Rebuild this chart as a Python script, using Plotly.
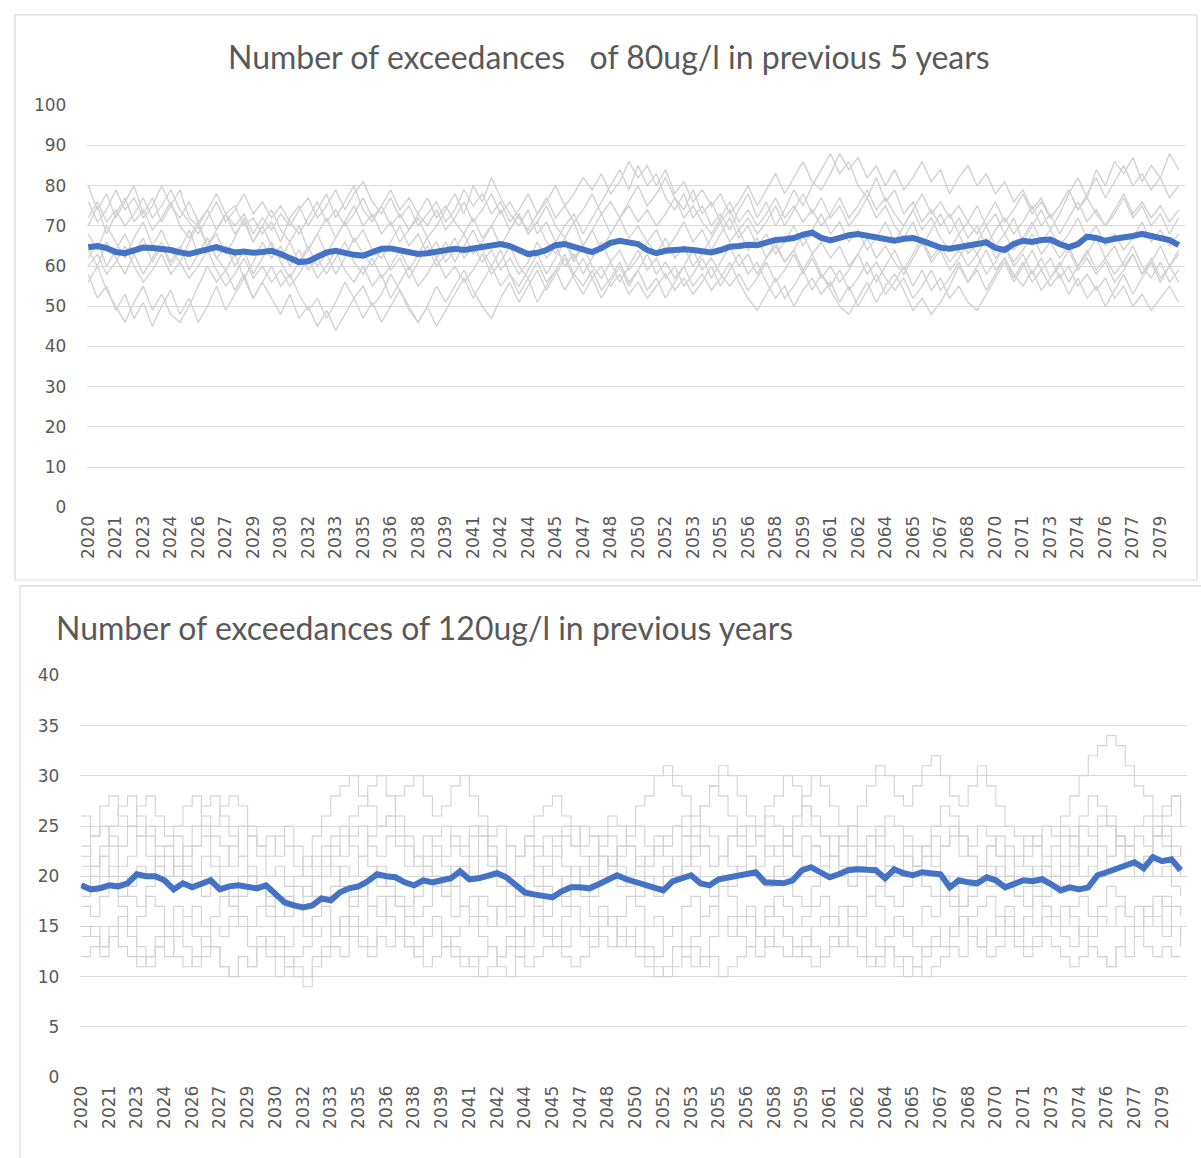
import plotly.graph_objects as go

# ---------------- data ----------------
periods = [2020 + 0.5 * i for i in range(120)]  # half-year steps 2020.0 .. 2079.5

tick_labels = ["2020", "2021", "2023", "2024", "2026", "2027", "2029", "2030", "2032", "2033",
               "2035", "2036", "2038", "2039", "2041", "2042", "2044", "2045", "2047", "2048",
               "2050", "2052", "2053", "2055", "2056", "2058", "2059", "2061", "2062", "2064",
               "2065", "2067", "2068", "2070", "2071", "2073", "2074", "2076", "2077", "2079"]
tick_positions = [2020 + 1.5 * k for k in range(len(tick_labels))]

top_y_ticks = [0, 10, 20, 30, 40, 50, 60, 70, 80, 90, 100]
bottom_y_ticks = [0, 5, 10, 15, 20, 25, 30, 35, 40]

# 80ug/l chart: ensemble members (grey)
top_member_1 = [80,74,78,72,76,80,73,77,71,75,79,72,70,74,69,73,75,70,72,68,
                71,66,72,75,70,74,78,72,76,80,74,71,75,70,73,69,72,67,70,74,
                78,73,80,76,82,77,73,70,74,68,71,66,70,73,68,72,76,80,84,79,
                85,80,83,77,74,78,72,75,70,73,69,74,78,72,76,70,74,79,75,80,
                84,88,83,86,80,77,82,76,79,73,76,71,74,70,73,68,71,75,70,73,
                68,72,66,70,74,69,73,78,82,77,84,80,86,83,87,81,85,82,88,84]
top_member_2 = [58,52,55,49,53,47,51,45,50,54,48,52,46,50,55,49,53,57,52,56,
                52,48,53,47,50,45,49,44,48,52,47,51,46,50,54,49,46,50,45,49,
                53,57,52,56,60,55,58,53,57,51,55,59,54,58,62,57,60,55,58,53,
                56,52,55,58,54,57,53,56,60,55,59,63,58,61,56,52,55,50,54,57,
                53,56,51,55,50,54,58,53,56,60,55,59,54,57,52,55,51,49,53,57,
                61,56,60,64,59,62,57,60,55,58,54,57,52,55,50,53,49,52,55,51]
top_member_3 = [70,75,68,73,77,71,74,69,72,76,70,67,71,65,69,73,68,71,66,70,
                74,69,66,70,64,68,72,67,71,75,70,73,68,71,66,69,73,77,72,75,
                71,68,72,67,70,74,69,73,68,71,75,70,67,71,65,69,73,68,72,76,
                80,75,78,82,77,74,79,73,76,71,74,69,72,68,71,75,70,74,78,73,
                77,72,75,70,73,77,72,75,70,67,71,65,69,73,68,72,67,70,65,69,
                72,68,71,75,70,73,68,72,76,71,74,70,73,77,72,75,70,73,68,72]
top_member_4 = [62,66,60,64,68,63,58,62,66,61,65,59,63,67,62,65,60,64,58,62,
                66,61,57,61,65,60,63,58,62,67,63,60,64,59,62,57,61,65,60,63,
                67,62,65,61,64,59,62,58,61,66,62,65,60,63,58,62,66,61,64,59,
                62,66,63,67,62,65,60,63,67,71,66,69,64,67,62,65,61,64,68,63,
                66,62,65,60,63,67,62,65,61,58,62,66,61,64,59,62,66,63,67,62,
                65,61,64,68,63,66,62,65,60,63,67,62,65,60,63,58,61,65,60,63]
top_member_5 = [56,60,54,50,46,51,55,49,53,48,46,50,55,60,56,59,54,58,52,56,
                60,55,58,53,49,52,47,51,56,52,55,50,53,58,54,50,46,50,55,51,
                55,59,54,50,47,52,56,51,55,59,54,58,62,57,53,57,52,56,60,55,
                59,54,57,52,56,60,55,58,54,57,61,56,52,49,53,57,52,55,59,54,
                58,54,50,48,52,56,51,55,58,54,49,52,48,51,55,60,56,59,54,58,
                62,57,61,56,59,55,58,53,57,52,55,50,54,58,53,57,61,56,60,64]
top_member_6 = [76,71,74,79,74,77,72,75,80,75,72,76,71,74,78,73,70,73,68,72,
                69,73,70,74,77,72,75,79,74,78,81,76,73,77,72,75,70,73,76,71,
                74,79,75,78,73,76,71,74,78,73,76,80,75,78,82,79,83,78,81,86,
                82,85,80,84,78,81,76,79,75,78,73,76,80,75,79,83,78,82,86,81,
                79,83,88,84,87,82,85,80,84,79,82,86,81,84,78,82,85,80,83,78,
                81,76,79,74,77,72,75,79,74,78,82,77,81,85,80,83,79,82,77,80]
top_member_7 = [64,60,66,62,58,63,67,61,65,60,64,69,63,67,62,59,63,57,61,66,
                62,65,60,64,59,62,58,62,66,61,58,62,57,60,64,59,63,67,62,66,
                61,65,69,64,60,64,58,55,59,63,58,62,66,61,65,60,57,61,56,60,
                64,59,62,57,60,55,58,62,57,61,65,60,63,58,62,66,61,64,59,63,
                58,55,59,54,57,61,56,60,64,59,63,67,62,65,61,64,60,63,58,61,
                65,60,63,58,62,57,60,64,59,62,58,61,56,59,63,58,62,57,60,56]
top_member_8 = [68,64,70,66,62,67,71,65,69,64,61,66,70,65,68,63,67,72,66,70,
                65,62,66,61,64,68,63,67,71,66,69,64,62,66,70,65,68,63,66,61,
                64,68,63,66,70,65,69,73,68,71,66,63,67,62,65,69,64,68,72,67,
                70,66,69,64,67,71,66,69,64,68,72,67,70,65,68,63,66,70,65,69,
                73,68,71,66,69,64,67,71,66,70,74,69,72,67,64,68,63,66,70,65,
                68,64,67,71,66,69,65,68,72,67,70,65,68,64,67,71,66,69,65,68]
top_member_9 = [60,63,58,61,65,60,56,59,63,58,61,57,60,64,59,55,58,62,57,60,
                56,59,55,58,62,57,60,64,59,56,60,55,58,52,56,60,55,58,62,57,
                60,56,59,63,58,61,65,60,57,61,56,59,63,58,55,59,54,57,61,56,
                59,63,58,61,57,60,64,59,62,58,55,58,54,57,61,56,59,63,58,62,
                57,60,56,59,63,58,61,57,54,57,52,55,59,54,57,61,56,60,64,59,
                62,58,55,59,54,57,61,56,60,64,59,62,58,61,65,60,57,61,56,59]
top_member_10 = [72,76,71,74,70,73,77,72,75,79,74,71,68,72,76,71,74,78,73,76,
                 72,75,71,68,72,76,71,74,70,73,77,72,75,79,74,77,73,70,74,69,
                 72,76,71,74,78,73,76,72,69,73,77,72,75,71,74,78,73,76,72,75,
                 71,74,70,73,77,72,75,71,68,72,76,71,74,70,73,77,72,75,71,74,
                 70,73,77,72,75,79,74,77,73,70,74,78,73,76,72,75,71,68,72,76,
                 71,74,78,73,76,72,75,79,74,77,73,70,74,78,73,76,72,75,71,74]
top_mean = [64.7,65.0,64.5,63.5,63.2,64.0,64.6,64.5,64.3,64.0,
            63.4,63.0,63.6,64.3,64.7,64.0,63.4,63.6,63.3,63.5,
            63.8,63.0,62.0,61.0,61.2,62.3,63.4,63.8,63.2,62.8,
            62.6,63.5,64.3,64.4,64.0,63.5,63.0,63.2,63.5,64.0,
            64.3,64.0,64.4,64.8,65.0,65.5,65.0,64.0,63.0,63.3,
            64.0,65.2,65.5,64.8,64.0,63.5,64.5,65.8,66.3,66.0,
            65.5,64.0,63.2,63.8,64.0,64.2,64.0,63.8,63.4,64.0,
            64.8,65.0,65.3,65.2,65.8,66.5,66.7,67.0,67.8,68.3,
            67.0,66.4,67.0,67.7,68.0,67.5,67.0,66.8,66.3,66.8,
            67.0,66.3,65.5,64.6,64.3,64.8,65.2,65.5,65.9,64.5,
            64.0,65.5,66.3,66.0,66.5,66.6,65.5,64.7,65.5,67.3,
            67.0,66.3,66.8,67.0,67.5,68.0,67.6,67.0,66.5,65.2]

# 120ug/l chart: ensemble members (grey)
bottom_member_1 = [26,24,27,28,26,25,27,28,26,24,25,27,28,26,25,27,28,27,25,23,
                   24,22,25,23,21,24,26,28,29,30,28,27,25,26,28,29,30,28,26,27,
                   29,30,28,26,24,25,23,22,24,26,27,28,26,25,23,24,22,21,23,25,
                   27,28,30,31,29,28,26,27,29,31,30,28,26,25,27,28,30,29,27,25,
                   24,22,23,25,27,29,31,30,28,27,29,31,32,30,28,27,29,31,29,27,
                   25,24,22,23,25,24,26,28,30,32,33,34,33,31,29,28,26,27,28,25]
bottom_member_2 = [12,13,12,14,13,12,11,12,13,12,14,13,11,12,13,11,10,12,11,13,
                   12,10,11,10,9,11,12,13,12,14,13,12,14,13,15,13,12,11,12,13,
                   12,11,12,10,11,12,13,12,11,12,13,14,13,15,14,13,14,13,15,14,
                   13,12,11,10,11,12,13,11,12,10,11,12,13,12,14,13,12,13,14,13,
                   12,13,14,13,12,11,12,13,11,12,11,10,11,12,13,12,14,13,12,13,
                   14,13,12,13,14,13,12,11,12,13,12,11,13,12,14,13,12,13,12,12]
bottom_member_3 = [22,24,25,23,21,22,24,25,23,22,20,21,23,24,22,21,23,25,24,22,
                   20,21,19,20,22,21,23,24,25,23,22,24,25,26,24,23,21,22,24,25,
                   23,22,24,25,23,21,20,22,23,21,20,22,24,23,25,24,22,21,23,24,
                   25,23,22,24,25,26,24,23,21,22,24,25,23,24,26,25,23,22,24,23,
                   21,22,24,25,23,22,24,26,25,23,21,22,24,23,25,24,22,21,23,24,
                   22,21,23,24,22,23,25,24,22,23,25,26,24,23,25,26,24,25,23,22]
bottom_member_4 = [17,16,18,19,17,15,16,18,17,15,14,16,17,15,16,18,17,16,15,17,
                   16,14,13,15,14,16,17,15,16,18,19,17,16,18,17,15,16,17,19,18,
                   16,17,18,16,15,17,16,14,15,17,16,18,17,19,18,16,17,15,16,18,
                   17,15,16,14,15,17,18,16,17,19,18,16,17,15,16,18,17,15,16,17,
                   18,16,15,17,16,18,17,15,16,14,15,17,16,18,17,15,16,17,18,16,
                   17,15,16,18,17,16,15,17,18,16,17,19,18,16,17,15,16,18,17,16]
bottom_member_5 = [19,21,23,25,27,28,26,24,22,20,21,23,25,27,28,26,24,22,20,19,
                   18,16,17,19,18,20,22,21,19,17,18,20,21,19,17,16,18,20,22,21,
                   19,17,16,18,17,15,16,18,20,22,24,23,21,19,20,22,24,26,25,23,
                   21,19,18,20,22,24,25,27,29,28,26,24,22,20,19,21,23,25,27,26,
                   24,22,20,19,21,22,20,18,17,19,21,23,22,20,18,17,19,21,23,22,
                   20,18,17,19,21,20,22,24,26,28,27,25,23,21,20,22,24,26,28,27]
bottom_member_6 = [15,14,13,15,16,14,12,11,13,14,12,11,12,14,13,11,10,12,11,13,
                   14,13,12,11,10,12,13,15,14,16,15,17,18,16,15,14,13,15,16,14,
                   13,12,11,12,13,11,10,12,13,15,14,13,12,11,12,13,15,16,14,13,
                   12,11,10,11,13,12,11,12,14,15,16,14,13,15,17,16,14,13,12,11,
                   12,14,13,15,14,12,11,13,12,10,11,13,14,13,15,16,14,13,15,14,
                   16,15,13,14,16,15,17,16,14,13,12,11,13,15,14,16,18,17,15,13]
bottom_member_7 = [21,20,22,20,18,19,21,20,22,23,21,19,20,22,21,19,18,20,21,19,
                   17,18,16,17,19,18,20,22,24,26,27,29,30,28,26,24,22,21,20,19,
                   21,20,22,24,22,20,19,18,20,19,21,20,18,19,21,20,22,21,19,20,
                   22,21,23,22,20,21,23,25,24,22,21,20,22,21,23,22,24,26,28,30,
                   29,27,25,23,22,24,23,21,20,22,21,23,25,27,26,24,22,20,21,19,
                   20,22,21,19,18,20,19,21,23,22,20,22,24,23,21,22,24,23,21,20]
bottom_member_8 = [18,20,19,21,20,18,17,19,21,20,22,21,19,18,20,19,17,18,20,19,
                   17,16,18,17,15,16,18,19,21,20,22,21,19,20,18,17,19,21,20,18,
                   19,21,20,22,21,19,17,16,18,17,19,18,20,21,19,18,20,22,21,19,
                   18,20,19,21,20,22,21,19,18,20,19,21,22,20,19,21,20,18,17,19,
                   20,22,21,19,20,18,19,21,20,22,21,19,18,20,19,17,18,20,19,21,
                   20,18,19,21,20,19,21,22,20,21,23,22,24,23,21,22,20,21,19,18]
bottom_member_9 = [14,15,13,14,16,15,13,12,14,15,17,16,14,13,15,14,16,15,13,14,
                   13,12,11,12,13,14,15,14,16,15,14,13,15,16,14,13,12,14,15,13,
                   14,15,16,14,13,12,14,13,15,16,15,14,16,17,15,14,16,15,13,14,
                   15,13,12,14,15,13,14,16,17,15,14,15,16,14,13,15,14,12,13,15,
                   16,15,17,16,14,15,13,14,16,15,13,12,13,15,14,16,15,13,14,16,
                   15,14,16,15,17,16,14,13,15,14,16,15,17,16,15,17,16,14,15,14]
bottom_member_10 = [23,21,22,24,23,25,24,22,21,23,24,22,23,25,24,23,21,22,24,23,
                    22,24,23,21,20,22,21,23,22,24,25,23,22,24,23,21,22,24,23,22,
                    24,23,25,24,22,21,23,22,24,23,22,24,25,23,22,21,23,24,22,23,
                    21,22,24,23,25,24,22,23,21,22,24,23,25,24,22,23,24,22,21,23,
                    22,24,23,21,22,24,25,23,22,24,23,22,21,23,24,22,23,25,24,22,
                    23,22,24,23,21,22,24,23,25,24,26,25,23,22,24,23,25,24,22,23]
bottom_mean = [19.1,18.7,18.8,19.1,19.0,19.3,20.2,20.0,20.0,19.6,
               18.7,19.3,18.9,19.3,19.6,18.7,19.0,19.1,18.9,18.8,
               19.1,18.2,17.4,17.1,16.9,17.1,17.8,17.6,18.4,18.8,
               19.0,19.5,20.2,20.0,19.9,19.4,19.1,19.6,19.4,19.6,
               19.8,20.5,19.7,19.8,20.0,20.3,19.9,19.1,18.4,18.2,
               18.1,17.9,18.5,18.9,18.9,18.8,19.2,19.6,20.1,19.7,
               19.4,19.1,18.8,18.6,19.5,19.8,20.1,19.3,19.1,19.7,
               19.9,20.1,20.2,20.4,19.4,19.3,19.3,19.6,20.6,20.9,
               20.4,19.9,20.2,20.6,20.7,20.6,20.6,19.8,20.7,20.3,
               20.1,20.4,20.3,20.2,18.9,19.6,19.4,19.3,19.9,19.6,
               18.9,19.3,19.6,19.5,19.7,19.2,18.6,18.9,18.7,18.9,
               20.1,20.4,20.7,21.0,21.4,20.8,21.9,21.5,21.7,20.6]

top_members = [top_member_1, top_member_2, top_member_3, top_member_4, top_member_5,
               top_member_6, top_member_7, top_member_8, top_member_9, top_member_10]
bottom_members = [bottom_member_1, bottom_member_2, bottom_member_3, bottom_member_4,
                  bottom_member_5, bottom_member_6, bottom_member_7, bottom_member_8,
                  bottom_member_9, bottom_member_10]

for s in top_members + bottom_members + [top_mean, bottom_mean]:
    assert len(s) == len(periods), len(s)

# ---------------- figure ----------------
W, H = 1201, 1158
GREY = "#d2d2d2"
BLUE = "#4472C4"
TXT = "#595959"
GRID = "#d9d9d9"
TICK_FONT = dict(family="DejaVu Sans", size=17, color=TXT)

fig = go.Figure()

for m in top_members:
    fig.add_trace(go.Scatter(x=periods, y=m, mode="lines", xaxis="x", yaxis="y",
                             line=dict(color=GREY, width=1.4), hoverinfo="skip"))
fig.add_trace(go.Scatter(x=periods, y=top_mean, mode="lines", xaxis="x", yaxis="y",
                         line=dict(color=BLUE, width=6)))

for m in bottom_members:
    fig.add_trace(go.Scatter(x=periods, y=m, mode="lines", xaxis="x2", yaxis="y2",
                             line=dict(color=GREY, width=1.1, shape="hv"), hoverinfo="skip"))
fig.add_trace(go.Scatter(x=periods, y=bottom_mean, mode="lines", xaxis="x2", yaxis="y2",
                         line=dict(color=BLUE, width=6)))


def px_x(p):
    return p / W


def px_y(p):
    return 1 - p / H


xaxis_common = dict(range=[2019.95, 2079.85], tickmode="array", tickvals=tick_positions,
                    ticktext=tick_labels, tickangle=-90, tickfont=TICK_FONT,
                    showgrid=False, zeroline=False, showline=False, ticks="",
                    ticklabelstandoff=4)
yaxis_common = dict(tickmode="array", tickfont=TICK_FONT, showgrid=True, gridcolor=GRID,
                    gridwidth=1, zeroline=False, showline=False, ticks="",
                    ticklabelstandoff=20)

fig.update_layout(
    width=W, height=H,
    margin=dict(l=0, r=0, t=0, b=0),
    paper_bgcolor="white", plot_bgcolor="white",
    showlegend=False,
    xaxis=dict(domain=[px_x(78), px_x(1185)], anchor="y", **xaxis_common),
    yaxis=dict(domain=[px_y(506), px_y(97)], range=[0, 100], tickvals=top_y_ticks,
               anchor="x", **yaxis_common),
    xaxis2=dict(domain=[px_x(71), px_x(1187)], anchor="y2", **xaxis_common),
    yaxis2=dict(domain=[px_y(1086), px_y(677)], range=[0, 40], tickvals=bottom_y_ticks,
                anchor="x2", **yaxis_common),
    shapes=[
        dict(type="rect", xref="paper", yref="paper",
             x0=px_x(5), x1=px_x(1197), y0=px_y(580), y1=px_y(5),
             line=dict(color=GRID, width=1.2), fillcolor="rgba(0,0,0,0)", layer="below"),
        dict(type="rect", xref="paper", yref="paper",
             x0=px_x(10), x1=px_x(1210), y0=px_y(1170), y1=px_y(586),
             line=dict(color=GRID, width=1.2), fillcolor="rgba(0,0,0,0)", layer="below"),
    ],
    annotations=[
        dict(text="Number of exceedances\u00a0\u00a0 of 80ug/l in previous 5 years",
             xref="paper", yref="paper", x=px_x(604), y=px_y(47),
             xanchor="center", yanchor="middle", showarrow=False,
             font=dict(family="Lato", size=32, color=TXT)),
        dict(text="Number of exceedances of 120ug/l in previous years",
             xref="paper", yref="paper", x=px_x(44), y=px_y(628),
             xanchor="left", yanchor="middle", showarrow=False,
             font=dict(family="Lato", size=32, color=TXT)),
    ],
)

fig.write_html("out.html", config={"displayModeBar": False},
               post_script="document.body.style.margin='0';document.body.style.overflow='hidden';")
